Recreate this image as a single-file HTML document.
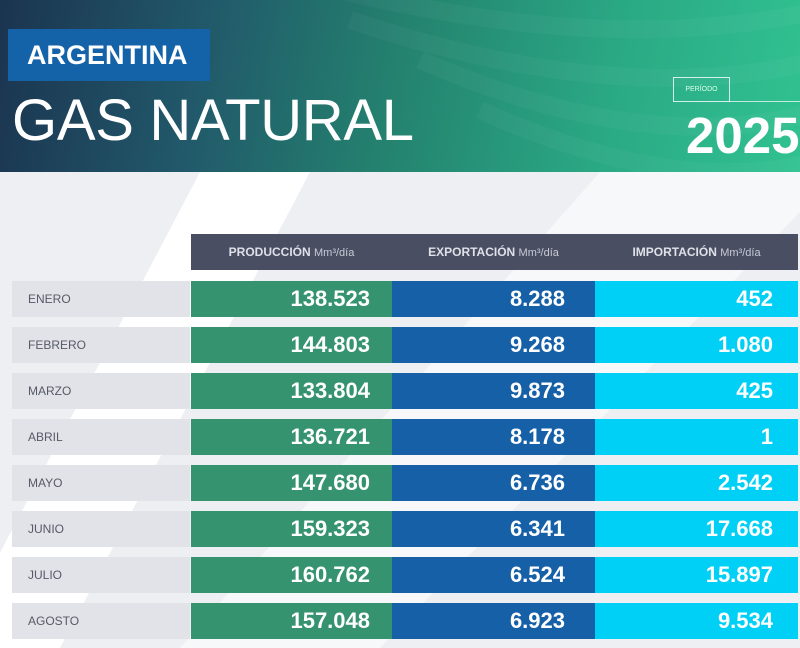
<!DOCTYPE html>
<html><head><meta charset="utf-8">
<style>
*{margin:0;padding:0;box-sizing:border-box}
body{width:800px;height:648px;overflow:hidden;font-family:"Liberation Sans",Arial,sans-serif;background:#eeeff2;position:relative}
#hdr{position:absolute;left:0;top:0;width:800px;height:172px;background:linear-gradient(100deg,#1b3450 0%,#21586a 25%,#24836f 50%,#2aa884 75%,#31c291 100%);overflow:hidden}
#tag{position:absolute;left:8px;top:29px;width:202px;height:52px;background:#1462a8;color:#fff;font-weight:bold;font-size:27px;line-height:52px;padding-left:19px}
#title{position:absolute;left:12px;top:88px;color:#fff;font-size:58px;line-height:66px;letter-spacing:-0.3px}
#per{position:absolute;left:673px;top:77px;width:57px;height:25px;border:1px solid rgba(255,255,255,0.8);color:#dfe;font-size:7px;line-height:23px;text-align:center}
#perline{position:absolute;left:729px;top:101px;width:71px;height:1px;background:rgba(255,255,255,0.7)}
#year{position:absolute;left:686px;top:110px;color:#fff;font-weight:bold;font-size:51px;line-height:52px}
.cell{position:absolute;height:36px}
.lab{left:12px;width:178px;background:#e2e3e8;color:#555a66;font-size:12px;line-height:36px;padding-left:16px}
.val{color:#fff;font-weight:bold;font-size:22px;line-height:36px;text-align:right}
#th{position:absolute;left:191px;top:234px;width:607px;height:36px;background:#4a4e62}
.thc{position:absolute;top:0;height:36px;line-height:36px;color:#dfe1e8;font-weight:bold;font-size:12px;text-align:center}
.thc span{font-weight:normal;font-size:11px;color:#c8cbd5}
</style></head><body>
<div id="hdr">
<svg width="800" height="172" style="position:absolute;left:0;top:0">
<g fill="none" stroke="rgba(255,255,255,0.035)" stroke-width="18">
<path d="M300 -20 Q600 60 820 10"/><path d="M350 20 Q620 110 820 60"/><path d="M420 60 Q650 160 820 110"/><path d="M480 110 Q680 200 820 160"/><path d="M250 -60 Q580 10 820 -40"/>
</g></svg>
<div id="tag">ARGENTINA</div>
<div id="title">GAS NATURAL</div>
<div id="per">PERÍODO</div>
<div id="perline"></div>
<div id="year">2025</div>
</div>
<svg width="800" height="476" style="position:absolute;left:0;top:172px">
<polygon points="200,0 310,0 60,476 -50,476" fill="#ffffff"/>
<polygon points="600,0 800,0 800,40 380,476 180,476" fill="#ffffff" opacity="0.55"/>
</svg>
<div id="th">
<div class="thc" style="left:0;width:201px">PRODUCCIÓN <span>Mm³/día</span></div>
<div class="thc" style="left:201px;width:203px">EXPORTACIÓN <span>Mm³/día</span></div>
<div class="thc" style="left:404px;width:203px">IMPORTACIÓN <span>Mm³/día</span></div>
</div>
<div id="rows"></div>
<script>
const months=["ENERO","FEBRERO","MARZO","ABRIL","MAYO","JUNIO","JULIO","AGOSTO"];
const produccion=["138.523","144.803","133.804","136.721","147.680","159.323","160.762","157.048"];
const exportacion=["8.288","9.268","9.873","8.178","6.736","6.341","6.524","6.923"];
const importacion=["452","1.080","425","1","2.542","17.668","15.897","9.534"];
const cols=[{v:produccion,x:191,w:201,c:"#35936f",p:22},{v:exportacion,x:392,w:203,c:"#1660a8",p:30},{v:importacion,x:595,w:203,c:"#00d0f5",p:25}];
const root=document.getElementById('rows');
months.forEach((m,i)=>{
  const y=281+i*46;
  const l=document.createElement('div');
  l.className='cell lab';l.style.top=y+'px';l.textContent=m;
  
  
  root.appendChild(l);
  cols.forEach(c=>{
    const d=document.createElement('div');
    d.className='cell val';d.style.top=y+'px';d.style.left=c.x+'px';d.style.width=c.w+'px';d.style.background=c.c;d.style.paddingRight=c.p+'px';
    d.textContent=c.v[i];
    
    
    root.appendChild(d);
  });
});
</script>
</body></html>
